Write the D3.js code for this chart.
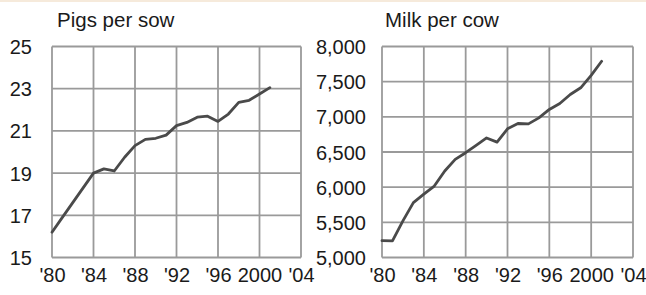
<!DOCTYPE html>
<html>
<head>
<meta charset="utf-8">
<script src="https://cdn.jsdelivr.net/npm/d3@7"></script>
<style>
  html, body { margin: 0; padding: 0; background: #fff; }
  svg { display: block; }
</style>
</head>
<body>
<svg id="chart" width="646" height="295"></svg>
<script>
const years = [1980,1981,1982,1983,1984,1985,1986,1987,1988,1989,1990,1991,1992,1993,1994,1995,1996,1997,1998,1999,2000,2001];
const pigsPerSow = [16.2,16.9,17.6,18.3,19.0,19.2,19.1,19.75,20.3,20.6,20.65,20.8,21.25,21.4,21.65,21.7,21.45,21.8,22.35,22.45,22.75,23.05];
const milkPerCow = [5240,5235,5520,5780,5900,6016,6230,6395,6490,6595,6700,6640,6830,6905,6900,6985,7105,7190,7318,7413,7590,7790];
const xTickValues = [1980,1984,1988,1992,1996,2000,2004];
const xTickLabels = ["'80","'84","'88","'92","'96","2000","'04"];
const pigTicks = [15,17,19,21,23,25];
const milkTicks = [5000,5500,6000,6500,7000,7500,8000];
const titles = ["Pigs per sow","Milk per cow"];

const svg = d3.select("#chart");
const font = "'Liberation Sans', Arial, sans-serif";

svg.append("rect").attr("x",0).attr("y",0).attr("width",646).attr("height",2).attr("fill","#f6eadb");

function panel(opts) {
  const x = d3.scaleLinear().domain([1980,2004]).range([opts.x0, opts.x1]);
  const y = d3.scaleLinear().domain(opts.yDomain).range([opts.y1, opts.y0]);
  const g = svg.append("g");

  // grid
  g.selectAll("line.v").data(xTickValues).enter().append("line")
    .attr("x1", d => x(d)).attr("x2", d => x(d))
    .attr("y1", opts.y0).attr("y2", opts.y1)
    .attr("stroke", "#9a9a9a").attr("stroke-width", 1.8);
  g.selectAll("line.h").data(opts.yTicks).enter().append("line")
    .attr("x1", opts.x0).attr("x2", opts.x1)
    .attr("y1", d => y(d)).attr("y2", d => y(d))
    .attr("stroke", "#9a9a9a").attr("stroke-width", 1.8);

  // y axis labels
  const yAxis = d3.axisLeft(y).tickValues(opts.yTicks).tickSize(0).tickPadding(0).tickFormat(opts.fmt);
  const ya = g.append("g").attr("transform", `translate(${opts.labelX},0)`).call(yAxis);
  ya.select(".domain").remove();
  ya.selectAll("text").attr("font-family", font).attr("font-size", 20).attr("fill", "#1a1a1a").attr("dy", "0.35em");

  // x axis labels
  const xAxis = d3.axisBottom(x).tickValues(xTickValues).tickSize(0).tickPadding(0)
    .tickFormat((d,i) => xTickLabels[i]);
  const xa = g.append("g").attr("transform", `translate(0,${opts.xLabelY})`).call(xAxis);
  xa.select(".domain").remove();
  xa.selectAll("text").attr("font-family", font).attr("font-size", 20).attr("fill", "#1a1a1a").attr("dy", 0);

  // title
  g.append("text").attr("x", opts.titleX).attr("y", 27)
    .attr("font-family", font).attr("font-size", 20.5).attr("fill", "#1a1a1a")
    .text(opts.title);

  // line
  const line = d3.line().x((d,i) => x(years[i])).y(d => y(d));
  g.append("path").datum(opts.values).attr("d", line)
    .attr("fill", "none").attr("stroke", "#4a4a4a").attr("stroke-width", 2.8)
    .attr("stroke-linejoin", "round").attr("stroke-linecap", "round");
}

panel({x0:52, x1:301, y0:46.5, y1:257.5, yDomain:[15,25], yTicks:pigTicks,
  fmt: d3.format("d"), labelX:32, xLabelY:282, titleX:57, title:titles[0], values:pigsPerSow});
panel({x0:382, x1:633, y0:46.5, y1:257.5, yDomain:[5000,8000], yTicks:milkTicks,
  fmt: d3.format(","), labelX:366, xLabelY:282, titleX:385, title:titles[1], values:milkPerCow});
</script>
</body>
</html>
